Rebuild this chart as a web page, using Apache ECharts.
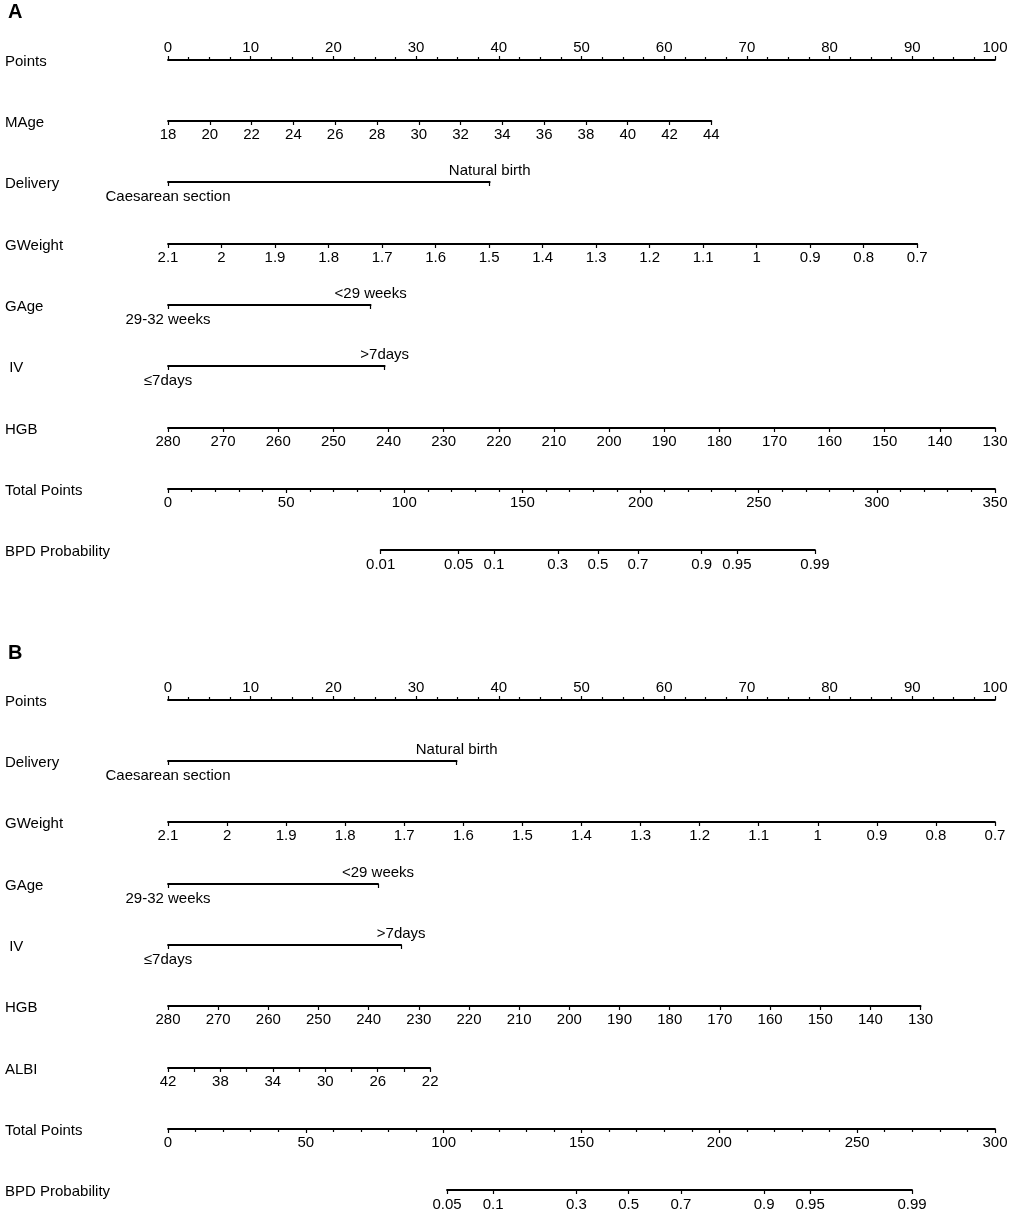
<!DOCTYPE html>
<html>
<head>
<meta charset="utf-8">
<title>Nomogram</title>
<script src="https://cdn.jsdelivr.net/npm/echarts@6/dist/echarts.min.js"></script>
<style>
  html, body { margin: 0; padding: 0; background: #fff; }
  #chart { width: 1013px; height: 1213px; }
</style>
</head>
<body>
<div id="chart"></div>
<script>
// ---- data ----
// points each predictor reaches at its far end (0..100 scale)
const mageRange = [18, 44];          const magePtsA = 65.7;
const deliveryLabels = ['Caesarean section', 'Natural birth'];
const deliveryPtsA = 38.9;           const deliveryPtsB = 34.9;
const gweightRange = [2.1, 0.7];     const gweightPtsA = 90.6;   const gweightPtsB = 100;
const gageLabels = ['29-32 weeks', '<29 weeks'];
const gagePtsA = 24.5;               const gagePtsB = 25.4;
const ivLabels = ['≤7days', '>7days'];
const ivPtsA = 26.2;                 const ivPtsB = 28.2;
const hgbRange = [280, 130];         const hgbPtsA = 100;        const hgbPtsB = 91.0;
const albiRange = [42, 22];          const albiPtsB = 31.7;
const albiLabels = [42, 38, 34, 30, 26, 22];
const totalMaxA = 350;               const totalMaxB = 300;
// BPD probability ticks and total points where the scale starts / ends
const bpdTicksA = [0.01, 0.05, 0.1, 0.3, 0.5, 0.7, 0.9, 0.95, 0.99];
const bpdTotalA = [90.0, 273.8];
const bpdTicksB = [0.05, 0.1, 0.3, 0.5, 0.7, 0.9, 0.95, 0.99];
const bpdTotalB = [101.2, 269.9];

// ---- layout ----
const X0 = 168, PW = 827;   // pixel span of 0..100 points
const FONT = "'Liberation Sans', Arial, Helvetica, sans-serif";
const FS = 15;
const logit = p => Math.log(p / (1 - p));

const grids = [], xAxes = [], yAxes = [], texts = [];

function tickStyle() {
  return { color: '#000', width: 1.2 };
}

function baseAxis(gi, extra) {
  return Object.assign({
    gridIndex: gi,
    type: 'value',
    splitLine: { show: false },
    axisLine: { show: true, lineStyle: { color: '#000', width: 1.8 } },
    axisTick: { show: true, length: 4, lineStyle: tickStyle() },
    axisLabel: { color: '#000', fontSize: FS, fontFamily: FONT, margin: 6 }
  }, extra);
}

function addGrid(left, width, y) {
  const gi = grids.length;
  grids.push({ left: left, width: width, top: y, height: 0 });
  yAxes.push({ gridIndex: gi, show: false, min: 0, max: 1 });
  return gi;
}

function nameText(name, y) {
  texts.push({
    type: 'text', left: 5, top: y - 6,
    style: { text: name, fill: '#000', font: FS + 'px ' + FONT }
  });
}

// numeric predictor / points / total axis
function valueRow(name, y, pts, range, opt) {
  opt = opt || {};
  const gi = addGrid(X0, pts / 100 * PW, y);
  const lo = Math.min(range[0], range[1]), hi = Math.max(range[0], range[1]);
  const ax = baseAxis(gi, {
    position: opt.top ? 'top' : 'bottom',
    min: lo, max: hi,
    interval: opt.interval,
    inverse: range[0] > range[1]
  });
  if (opt.top) ax.axisLabel.margin = 5;
  if (opt.minor) ax.minorTick = { show: true, splitNumber: opt.minor, length: 3, lineStyle: tickStyle() };
  if (opt.labels) ax.axisLabel.customValues = opt.labels;
  xAxes.push(ax);
  nameText(name, y);
}

// two-level predictor
function catRow(name, y, pts, labels) {
  const gi = addGrid(X0, pts / 100 * PW, y);
  xAxes.push(baseAxis(gi, {
    position: 'bottom', min: 0, max: 1,
    axisTick: { show: true, length: 4, customValues: [0, 1], lineStyle: tickStyle() },
    axisLabel: { color: '#000', fontSize: FS, fontFamily: FONT, margin: 7,
      customValues: [0], formatter: v => labels[Math.round(v)] }
  }));
  xAxes.push(baseAxis(gi, {
    position: 'top', min: 0, max: 1,
    axisLine: { show: false }, axisTick: { show: false },
    axisLabel: { color: '#000', fontSize: FS, fontFamily: FONT, margin: 4,
      customValues: [1], formatter: v => labels[Math.round(v)] }
  }));
  nameText(name, y);
}

// probability axis on a logit scale
function probRow(name, y, ticks, totalRange, totalMax) {
  const left = X0 + totalRange[0] / totalMax * PW;
  const width = (totalRange[1] - totalRange[0]) / totalMax * PW;
  const gi = addGrid(left, width, y);
  const vals = ticks.map(logit);
  const fmt = v => {
    const i = vals.findIndex(t => Math.abs(t - v) < 1e-6);
    return i < 0 ? '' : String(ticks[i]);
  };
  xAxes.push(baseAxis(gi, {
    position: 'bottom',
    min: vals[0], max: vals[vals.length - 1],
    axisTick: { show: true, length: 4, customValues: vals, lineStyle: tickStyle() },
    axisLabel: { color: '#000', fontSize: FS, fontFamily: FONT, margin: 7, customValues: vals, formatter: fmt }
  }));
  nameText(name, y);
}

// ---- panel A ----
valueRow('Points', 60, 100, [0, 100], { top: true, interval: 10, minor: 4 });
valueRow('MAge', 121, magePtsA, mageRange, { interval: 2 });
catRow('Delivery', 182, deliveryPtsA, deliveryLabels);
valueRow('GWeight', 244, gweightPtsA, gweightRange, { interval: 0.1 });
catRow('GAge', 305, gagePtsA, gageLabels);
catRow(' IV', 366, ivPtsA, ivLabels);
valueRow('HGB', 428, hgbPtsA, hgbRange, { interval: 10 });
valueRow('Total Points', 489, 100, [0, totalMaxA], { interval: 50, minor: 5 });
probRow('BPD Probability', 550, bpdTicksA, bpdTotalA, totalMaxA);

// ---- panel B ----
valueRow('Points', 700, 100, [0, 100], { top: true, interval: 10, minor: 4 });
catRow('Delivery', 761, deliveryPtsB, deliveryLabels);
valueRow('GWeight', 822, gweightPtsB, gweightRange, { interval: 0.1 });
catRow('GAge', 884, gagePtsB, gageLabels);
catRow(' IV', 945, ivPtsB, ivLabels);
valueRow('HGB', 1006, hgbPtsB, hgbRange, { interval: 10 });
valueRow('ALBI', 1068, albiPtsB, albiRange, { interval: 2, labels: albiLabels });
valueRow('Total Points', 1129, 100, [0, totalMaxB], { interval: 50, minor: 5 });
probRow('BPD Probability', 1190, bpdTicksB, bpdTotalB, totalMaxB);

// panel letters
texts.push({ type: 'text', left: 8, top: 2, style: { text: 'A', fill: '#000', font: 'bold 20px ' + FONT } });
texts.push({ type: 'text', left: 8, top: 643, style: { text: 'B', fill: '#000', font: 'bold 20px ' + FONT } });

const chart = echarts.init(document.getElementById('chart'), null, { renderer: 'canvas' });
chart.setOption({
  animation: false,
  backgroundColor: '#fff',
  grid: grids,
  xAxis: xAxes,
  yAxis: yAxes,
  graphic: texts,
  series: []
});
</script>
</body>
</html>
